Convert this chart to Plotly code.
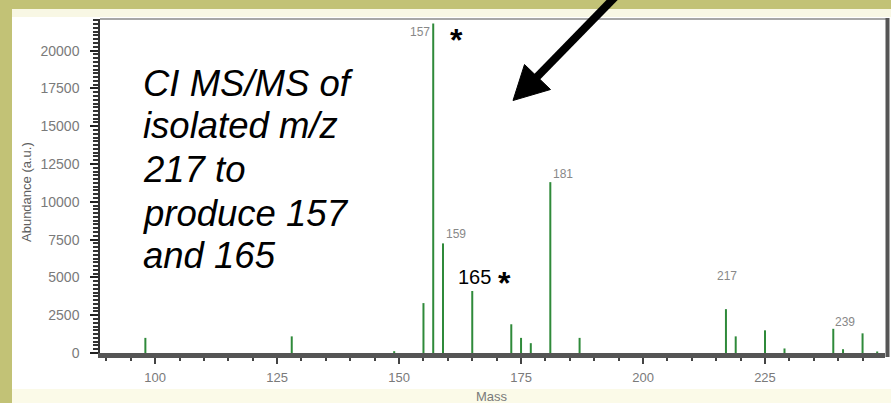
import plotly.graph_objects as go

# ---------------- data ----------------
masses = [98, 128, 149, 155, 157, 159, 165, 173, 175, 177, 181, 187, 217, 219, 225, 229, 239, 241, 245, 248]
abundance = [1000, 1100, 120, 3300, 21800, 7250, 4100, 1900, 1000, 650, 11300, 1000, 2900, 1100, 1500, 300, 1600, 250, 1300, 100]
labelled_peaks = [157, 159, 181, 217, 239]
x_tick_step = 25
y_tick_step = 2500
note_lines = ["CI MS/MS of", "isolated m/z", "217 to", "produce 157", "and 165"]
starred_peaks = [157, 165]

# ---------------- layout geometry ----------------
W, H = 891, 403
L, R, T, B = 100, 6, 19, 50
PW, PH = W - L - R, H - T - B
X_RANGE = [88.7, 249.6]
Y_RANGE = [0, 22090]

def px(x):
    return (x - L) / PW

def py(y):
    return (H - B - y) / PH

GREEN = "#2f8a3a"
GRAY_TXT = "#7a7a7a"
OLIVE = "#c2c276"

# stick spectrum built from data
xs, ys = [], []
for m, a in zip(masses, abundance):
    xs += [m, m, None]
    ys += [0, a, None]

fig = go.Figure()
fig.add_trace(go.Scatter(x=xs, y=ys, mode="lines",
                         line=dict(color=GREEN, width=2),
                         hoverinfo="skip", showlegend=False))

peak = dict(zip(masses, abundance))
label_style = {
    157: dict(xanchor="right", xshift=-1, yshift=-9),
    159: dict(xanchor="left", xshift=1, yshift=9),
    181: dict(xanchor="left", xshift=1, yshift=8),
    217: dict(xanchor="center", xshift=1, yshift=33),
    239: dict(xanchor="left", xshift=0, yshift=7),
}
annotations = []
for m in labelled_peaks:
    st = label_style[m]
    annotations.append(dict(x=m, y=peak[m], xref="x", yref="y", text=str(m),
                            showarrow=False, yanchor="middle",
                            font=dict(family="Liberation Sans, Arial", size=12, color="#888888"),
                            **st))

# big italic note, one line per annotation
note_centers = [83.7, 125.3, 170, 213, 255.3]
for txt, yc in zip(note_lines, note_centers):
    annotations.append(dict(x=px(141), y=py(yc), xref="paper", yref="paper",
                            text="<i>" + txt + "</i>", showarrow=False,
                            xanchor="left", yanchor="middle",
                            font=dict(family="Liberation Sans, Arial", size=36.5, color="black")))

# "165 *" note and the star next to 157
annotations.append(dict(x=starred_peaks[1], y=peak[starred_peaks[1]], xref="x", yref="y",
                        text="165", showarrow=False, xanchor="left", yanchor="middle",
                        xshift=-16, yshift=14,
                        font=dict(family="Liberation Sans, Arial", size=20, color="black")))
annotations.append(dict(x=px(504), y=py(283), xref="paper", yref="paper",
                        text="<b>*</b>", showarrow=False, xanchor="center", yanchor="middle",
                        font=dict(family="Liberation Sans, Arial", size=32, color="black")))
annotations.append(dict(x=px(456), y=py(40), xref="paper", yref="paper",
                        text="<b>*</b>", showarrow=False, xanchor="center", yanchor="middle",
                        font=dict(family="Liberation Sans, Arial", size=32, color="black")))

# axis titles
annotations.append(dict(x=px(26), y=py(192), xref="paper", yref="paper",
                        text="Abundance (a.u.)", textangle=-90, showarrow=False,
                        xanchor="center", yanchor="middle",
                        font=dict(family="Liberation Sans, Arial", size=13, color="#5e5e5e")))
annotations.append(dict(x=px(492), y=py(396), xref="paper", yref="paper",
                        text="Mass", showarrow=False, xanchor="center", yanchor="middle",
                        font=dict(family="Liberation Sans, Arial", size=13, color=GRAY_TXT)))

shapes = [
    # olive slide background strips (top and left) and cream edges
    dict(type="rect", xref="paper", yref="paper", x0=px(-5), x1=px(W + 5), y0=py(9), y1=py(-5),
         fillcolor=OLIVE, line=dict(width=0), layer="below"),
    dict(type="rect", xref="paper", yref="paper", x0=px(-5), x1=px(12), y0=py(H + 5), y1=py(-5),
         fillcolor=OLIVE, line=dict(width=0), layer="below"),
    dict(type="rect", xref="paper", yref="paper", x0=px(12), x1=px(W + 5), y0=py(H + 5), y1=py(389),
         fillcolor="#fbfae8", line=dict(width=0), layer="below"),
    dict(type="rect", xref="paper", yref="paper", x0=px(12), x1=px(W + 5), y0=py(17), y1=py(9),
         fillcolor="#f8f7e4", line=dict(width=0), layer="below"),
    # frame top + right
    dict(type="line", xref="paper", yref="paper", x0=px(100), x1=px(888), y0=py(19), y1=py(19),
         line=dict(color="#8a8a8a", width=1.5)),
    dict(type="line", xref="paper", yref="paper", x0=px(887.5), x1=px(887.5), y0=py(18), y1=py(357),
         line=dict(color="#555555", width=4)),
    # black arrow
    dict(type="line", xref="paper", yref="paper", x0=px(616), y0=py(-4), x1=px(534), y1=py(80),
         line=dict(color="black", width=8)),
    dict(type="path", xref="paper", yref="paper",
         path="M {} {} L {} {} L {} {} Z".format(px(524.5), py(64.5), px(550.5), py(89.5), px(513), py(100.5)),
         fillcolor="black", line=dict(color="black", width=1)),
]

fig.update_layout(
    width=W, height=H,
    margin=dict(l=L, r=R, t=T, b=B, pad=0),
    paper_bgcolor="white", plot_bgcolor="white",
    font=dict(family="Liberation Sans, Arial", size=13, color=GRAY_TXT),
    showlegend=False,
    annotations=annotations,
    shapes=shapes,
    xaxis=dict(range=X_RANGE, tickmode="linear", tick0=0, dtick=x_tick_step, ticks="outside", ticklen=6,
               tickwidth=1.5, tickcolor="#444444", showline=True, linewidth=5, linecolor="#555555",
               showgrid=False, zeroline=False, ticklabelstandoff=2,
               tickfont=dict(size=13, color=GRAY_TXT),
               minor=dict(dtick=5, tick0=0, ticks="outside", ticklen=3, tickcolor="#444444", tickwidth=1.5,
                          showgrid=False)),
    yaxis=dict(range=Y_RANGE, tickmode="linear", tick0=0, dtick=y_tick_step, tickformat="d",
               ticks="outside", ticklen=8,
               tickwidth=1.5, tickcolor="#222222", showline=True, linewidth=1.5, linecolor="#333333",
               showgrid=False, zeroline=False, ticklabelstandoff=8,
               tickfont=dict(size=14, color=GRAY_TXT),
               minor=dict(dtick=250, tick0=0, ticks="outside", ticklen=5, tickcolor="#333333", tickwidth=1.5,
                          showgrid=False)),
)

fig.write_html("out.html")
